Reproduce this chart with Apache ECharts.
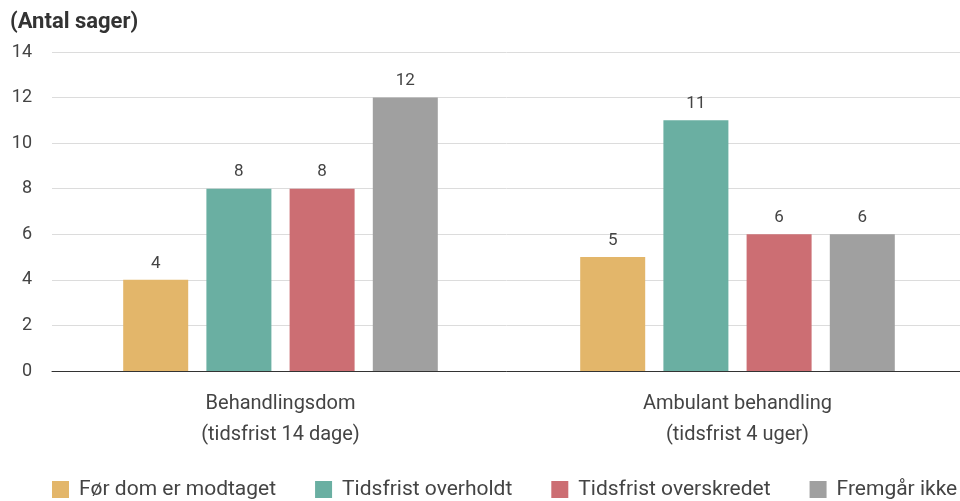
<!DOCTYPE html>
<html>
<head>
<meta charset="utf-8">
<script src="https://cdn.jsdelivr.net/npm/echarts@6/dist/echarts.min.js"></script>
<style>
  html, body { margin: 0; padding: 0; background: #fff; }
  #chart { width: 960px; height: 501px; }
</style>
</head>
<body>
<div id="chart"></div>
<script>
// kategorier og serier
const categories = ['Behandlingsdom\n(tidsfrist 14 dage)', 'Ambulant behandling\n(tidsfrist 4 uger)']
const seriesNames = ['Før dom er modtaget', 'Tidsfrist overholdt', 'Tidsfrist overskredet', 'Fremgår ikke']
const forDom = [4, 5]
const overholdt = [8, 11]
const overskredet = [8, 6]
const fremgaarIkke = [12, 6]
const colors = ['#E3B66A', '#6AAFA2', '#CC6E73', '#A0A0A0']

const font = 'Roboto, "Noto Sans", sans-serif'
const values = [forDom, overholdt, overskredet, fremgaarIkke]

const chart = echarts.init(document.getElementById('chart'))

const option = {
  animation: false,
  textStyle: { fontFamily: font },
  title: {
    text: '(Antal sager)',
    left: 10,
    top: 11,
    padding: 0,
    textStyle: { fontSize: 22, fontWeight: 'bold', color: '#333', fontFamily: font }
  },
  legend: {
    left: 52,
    bottom: 1,
    width: 940,
    padding: 0,
    itemWidth: 17,
    itemHeight: 17,
    itemGap: 39,
    icon: 'rect',
    textStyle: { fontSize: 21, color: '#444', fontFamily: font, padding: [0, 0, 0, 5] },
    data: seriesNames
  },
  grid: {
    left: 52,
    right: -6,
    top: 52,
    bottom: 130,
    outerBoundsMode: 'none'
  },
  xAxis: {
    type: 'category',
    data: categories,
    axisTick: { show: false },
    axisLine: { lineStyle: { color: '#333', width: 1 } },
    axisLabel: {
      fontSize: 20,
      color: '#444',
      lineHeight: 31,
      margin: 17
    }
  },
  yAxis: {
    type: 'value',
    min: 0,
    max: 14,
    interval: 2,
    axisLine: { show: false },
    axisTick: { show: false },
    splitLine: { lineStyle: { color: '#dcdcdc' } },
    axisLabel: {
      fontSize: 18,
      color: '#444',
      margin: 20,
      align: 'right'
    }
  },
  series: seriesNames.map((name, i) => ({
    name: name,
    type: 'bar',
    data: values[i],
    barWidth: 65,
    barGap: '28%',
    itemStyle: { color: colors[i] },
    label: {
      show: true,
      position: 'top',
      distance: 8,
      fontSize: 17,
      color: '#444'
    }
  }))
}

chart.setOption(option)
</script>
</body>
</html>
